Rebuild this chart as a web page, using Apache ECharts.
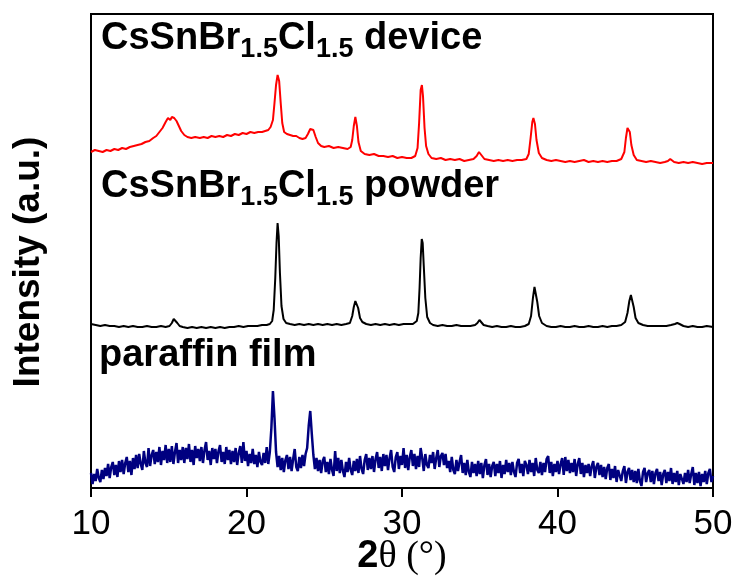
<!DOCTYPE html>
<html><head><meta charset="utf-8">
<script src="https://cdn.jsdelivr.net/npm/echarts@6/dist/echarts.min.js"></script>
<style>html,body{margin:0;padding:0;background:#fff}#c{width:735px;height:578px}</style>
</head><body><div id="c"></div>
<script>
// ---------------- data ----------------
const xTickLabels = ['10', '20', '30', '40', '50'];
const seriesNames = ['CsSnBr1.5Cl1.5 device', 'CsSnBr1.5Cl1.5 powder', 'paraffin film'];

// [2theta, intensity (a.u., stacked)]
const deviceXRD = [
[10.0,336],[10.25,338],[10.5,337],[10.75,336],[11.0,338],[11.25,337],[11.5,339],[11.75,338],[12.0,340],[12.25,339],[12.5,341],[12.75,342],[13.0,343],[13.25,344],[13.5,346],[13.75,347],[14.0,350],[14.2,352],[14.4,356],[14.6,360],[14.8,366],[14.95,370],[15.1,368],[15.2,371],[15.35,370],[15.5,367],[15.65,362],[15.8,357],[16.0,353],[16.2,351],[16.45,350],[16.7,351],[17.0,350],[17.25,351],[17.5,350],[17.75,352],[18.0,351],[18.25,352],[18.5,351],[18.75,353],[19.0,352],[19.25,354],[19.5,353],[19.75,355],[20.0,354],[20.25,356],[20.5,355],[20.75,356],[21.0,356],[21.2,357],[21.4,358],[21.55,361],[21.7,368],[21.8,385],[21.9,403],[22.0,413],[22.1,407],[22.2,385],[22.3,365],[22.42,356],[22.6,354],[22.8,353],[23.0,352],[23.2,352],[23.4,350],[23.6,349],[23.8,350],[23.95,354],[24.1,359],[24.2,361],[24.3,358],[24.45,351],[24.6,345],[24.8,342],[25.0,341],[25.3,342],[25.6,340],[25.9,341],[26.2,340],[26.5,339],[26.7,341],[26.8,348],[26.9,362],[27.0,371],[27.1,362],[27.2,346],[27.35,337],[27.6,334],[27.9,333],[28.2,334],[28.5,332],[28.8,332],[29.1,331],[29.4,332],[29.7,330],[30.0,331],[30.3,330],[30.6,330],[30.85,332],[31.0,340],[31.1,365],[31.2,398],[31.28,403],[31.35,392],[31.45,360],[31.55,342],[31.7,334],[31.9,330],[32.2,329],[32.5,330],[32.8,328],[33.1,329],[33.4,328],[33.7,329],[34.0,327],[34.3,328],[34.6,329],[34.8,332],[34.95,336],[35.1,333],[35.3,329],[35.6,328],[35.9,327],[36.2,328],[36.5,327],[36.8,328],[37.1,327],[37.4,328],[37.7,328],[38.0,329],[38.15,334],[38.27,350],[38.38,366],[38.45,370],[38.55,364],[38.65,348],[38.8,335],[39.0,330],[39.3,328],[39.6,327],[39.9,328],[40.2,327],[40.5,326],[40.8,327],[41.1,326],[41.4,327],[41.7,328],[42.0,326],[42.3,327],[42.6,326],[42.9,327],[43.2,326],[43.5,327],[43.8,327],[44.1,329],[44.3,336],[44.4,350],[44.5,360],[44.57,362],[44.65,356],[44.75,343],[44.9,333],[45.1,328],[45.4,327],[45.7,326],[46.0,327],[46.3,326],[46.6,325],[46.9,326],[47.1,327],[47.25,329],[47.35,329],[47.5,326],[47.8,325],[48.1,326],[48.4,325],[48.7,326],[49.0,325],[49.3,324],[49.6,325],[50.0,325]
];

const powderXRD = [
[10.0,164],[10.3,163],[10.6,162],[10.9,163],[11.2,162],[11.5,162],[11.8,161],[12.1,162],[12.4,161],[12.7,162],[13.0,161],[13.3,161],[13.6,162],[13.9,161],[14.2,161],[14.5,162],[14.8,161],[15.05,162],[15.2,165],[15.32,169],[15.42,170],[15.55,165],[15.7,162],[15.9,161],[16.2,160],[16.5,161],[16.8,160],[17.1,161],[17.4,160],[17.7,161],[18.0,160],[18.3,161],[18.6,160],[18.9,161],[19.2,161],[19.5,162],[19.8,161],[20.1,162],[20.4,162],[20.7,162],[21.0,163],[21.3,163],[21.5,164],[21.65,167],[21.75,178],[21.85,210],[21.93,245],[22.0,265],[22.07,252],[22.15,215],[22.25,182],[22.38,169],[22.55,165],[22.8,164],[23.1,163],[23.4,164],[23.7,163],[24.0,164],[24.3,163],[24.6,164],[24.9,163],[25.2,164],[25.5,163],[25.8,164],[26.1,163],[26.4,164],[26.65,165],[26.8,172],[26.9,181],[27.0,187],[27.08,188],[27.18,180],[27.3,170],[27.45,166],[27.7,164],[28.0,163],[28.3,164],[28.6,163],[28.9,164],[29.2,163],[29.5,164],[29.8,163],[30.1,164],[30.4,164],[30.7,164],[30.95,167],[31.05,175],[31.13,200],[31.2,230],[31.27,249],[31.33,245],[31.4,222],[31.5,190],[31.62,171],[31.8,165],[32.0,163],[32.3,162],[32.6,163],[32.9,162],[33.2,162],[33.5,163],[33.8,162],[34.1,162],[34.4,162],[34.7,163],[34.85,165],[34.98,168],[35.1,166],[35.25,163],[35.5,162],[35.8,161],[36.1,162],[36.4,161],[36.7,161],[37.0,162],[37.3,161],[37.6,161],[37.9,162],[38.15,164],[38.3,172],[38.42,190],[38.52,201],[38.6,200],[38.7,186],[38.82,172],[39.0,165],[39.3,162],[39.6,161],[39.9,161],[40.2,162],[40.5,161],[40.8,161],[41.1,162],[41.4,161],[41.7,161],[42.0,162],[42.3,161],[42.6,161],[42.9,162],[43.2,161],[43.5,162],[43.8,162],[44.1,163],[44.35,166],[44.5,175],[44.62,187],[44.72,193],[44.8,191],[44.9,181],[45.02,170],[45.2,165],[45.5,163],[45.8,162],[46.1,162],[46.4,162],[46.7,162],[47.0,162],[47.3,163],[47.55,164],[47.7,165],[47.85,164],[48.1,162],[48.4,161],[48.7,162],[49.0,161],[49.3,161],[49.6,162],[50.0,161]
];

// paraffin film: sampled every 0.1 deg from 10 to 50
const paraffinStart = 10;
const paraffinStep = 0.1;
const paraffinXRD = [
15,4,14,7,19,10,6,18,9,20,
12,24,10,21,26,13,23,11,27,16,
28,14,25,31,16,27,13,30,19,33,
20,34,24,18,37,25,21,40,22,33,
38,24,36,26,41,23,37,28,43,25,
39,26,42,24,36,45,25,38,28,41,
25,40,29,44,26,38,23,42,30,39,
27,41,25,38,46,28,37,23,40,29,
39,25,37,43,26,36,24,41,28,38,
24,37,26,40,23,35,42,25,46,27,
37,22,34,25,39,24,33,21,36,26,
23,35,25,41,24,36,60,97,70,36,
21,32,18,30,16,28,33,19,31,17,
29,39,21,17,31,20,33,22,34,40,
62,77,54,33,19,30,17,28,15,27,
31,16,26,14,29,18,12,37,17,30,
15,28,17,11,26,16,30,18,13,27,
17,29,15,32,19,14,28,34,18,30,
19,32,16,29,36,20,31,17,34,22,
33,18,30,38,21,16,31,36,19,32,
23,40,20,33,18,31,38,22,34,19,
32,21,40,30,17,34,23,20,33,25,
36,19,30,38,21,32,35,23,34,20,
27,16,31,18,14,28,17,26,33,15,
25,13,28,16,11,26,15,24,12,27,
14,25,10,23,29,13,24,11,22,26,
12,24,15,27,10,23,14,28,16,25,
13,26,16,11,25,29,15,24,12,27,
23,14,28,16,25,12,30,18,15,26,
13,25,16,29,32,15,26,12,24,16,
27,14,24,30,13,31,17,28,15,25,
16,29,12,24,30,14,25,11,23,15,
24,12,22,27,10,21,25,13,23,11,
21,9,20,24,8,19,10,22,6,18,
19,7,17,22,5,16,20,8,18,6,
17,5,19,7,2,16,20,6,15,18,
6,17,4,15,19,7,16,3,14,18,
5,16,7,20,4,15,6,17,3,14,
16,4,15,6,18,5,14,21,3,15,
5,16,2,14,6,17,4,15,19,6,
12
];

// ---------------- chart ----------------
const SANS = '"Liberation Sans", Arial, Helvetica, sans-serif';
const SERIF = '"Liberation Serif", "Times New Roman", serif';
const paraffinPairs = paraffinXRD.map((v, i) => [Math.round((paraffinStart + i * paraffinStep) * 100) / 100, v]);

const chart = echarts.init(document.getElementById('c'), null, {renderer: 'canvas'});

function chemLabel(tail) {
  return '{m|CsSnBr}{s|1.5}{m|Cl}{s|1.5}{m| ' + tail + '}';
}
const labelRich = {
  m: {fontFamily: SANS, fontWeight: 'bold', fontSize: 38, lineHeight: 44, color: '#000'},
  s: {fontFamily: SANS, fontWeight: 'bold', fontSize: 27, lineHeight: 30, padding: [22, 0, 0, 0], color: '#000'},
  p: {fontFamily: SANS, fontWeight: 'bold', fontSize: 38, lineHeight: 44, color: '#000'}
};

chart.setOption({
  animation: false,
  backgroundColor: '#fff',
  grid: {left: 91, right: 22, top: 14, bottom: 90, containLabel: false, outerBoundsMode: 'none',
         show: true, borderColor: '#000', borderWidth: 2, backgroundColor: 'transparent'},
  xAxis: {
    type: 'value', min: 10, max: 50, interval: 10,
    name: '{a|2}{b|θ (°)}', nameLocation: 'middle', nameGap: 50, nameMoveOverlap: false,
    nameTextStyle: {rich: {
      a: {fontFamily: SANS, fontWeight: 'bold', fontSize: 38, color: '#000'},
      b: {fontFamily: SERIF, fontSize: 38, color: '#000'}
    }},
    axisLine: {show: true, lineStyle: {color: '#000', width: 2}},
    axisTick: {show: true, inside: false, length: 9, lineStyle: {color: '#000', width: 2}},
    axisLabel: {color: '#000', fontSize: 35, fontFamily: SANS, margin: 19,
      formatter: v => xTickLabels[Math.round((v - 10) / 10)]},
    splitLine: {show: false}
  },
  yAxis: {
    type: 'value', min: 0, max: 474,
    name: 'Intensity (a.u.)', nameLocation: 'middle', nameGap: 44, nameMoveOverlap: false,
    nameTextStyle: {fontFamily: SANS, fontWeight: 'bold', fontSize: 37, color: '#000', padding: [0, 22, 0, 0]},
    axisLine: {show: true, lineStyle: {color: '#000', width: 2}},
    axisTick: {show: false}, axisLabel: {show: false}, splitLine: {show: false}
  },
  graphic: [
    {type: 'text', x: 101, y: 39, style: {text: chemLabel('device'), rich: labelRich, verticalAlign: 'middle', align: 'left'}},
    {type: 'text', x: 101, y: 187, style: {text: chemLabel('powder'), rich: labelRich, verticalAlign: 'middle', align: 'left'}},
    {type: 'text', x: 99, y: 356, style: {text: '{p|paraffin film}', rich: labelRich, verticalAlign: 'middle', align: 'left'}}
  ],
  series: [
    {name: seriesNames[0], type: 'line', data: deviceXRD, showSymbol: false, smooth: false,
     lineStyle: {color: '#ff0000', width: 2}, itemStyle: {color: '#ff0000'}},
    {name: seriesNames[1], type: 'line', data: powderXRD, showSymbol: false,
     lineStyle: {color: '#000000', width: 2}, itemStyle: {color: '#000000'}},
    {name: seriesNames[2], type: 'line', data: paraffinPairs, showSymbol: false,
     lineStyle: {color: '#000080', width: 2.5}, itemStyle: {color: '#000080'}}
  ]
});
</script>
</body></html>
